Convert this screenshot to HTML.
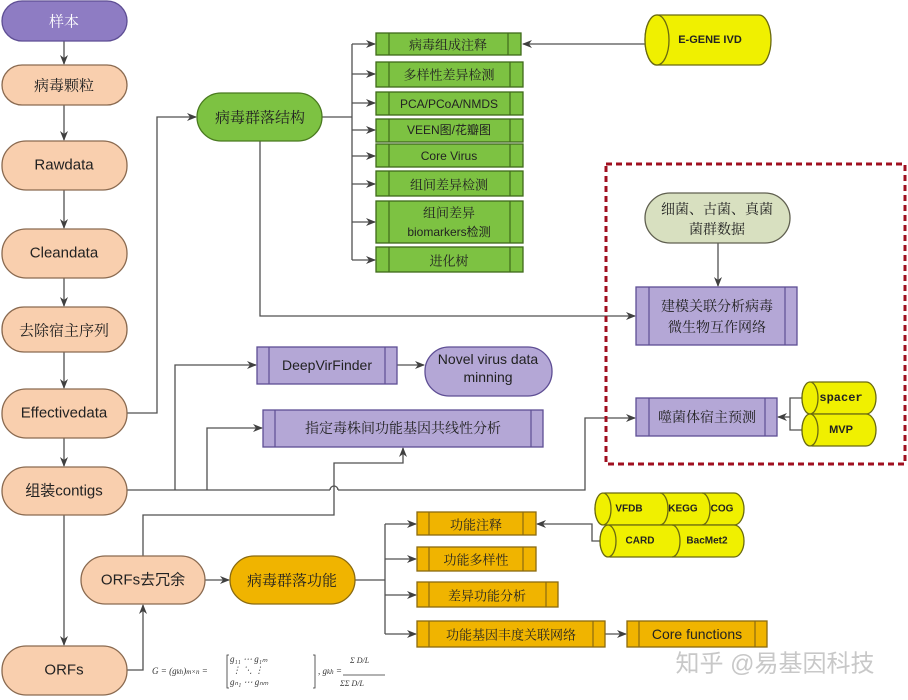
<!DOCTYPE html>
<html><head><meta charset="utf-8"><style>
html,body{margin:0;padding:0;background:#fff;}
svg{display:block;font-family:"Liberation Sans","Noto Sans CJK SC",sans-serif;}
.cn{font-family:"Noto Serif CJK SC","Liberation Serif",serif;}
</style></head><body>
<svg width="908" height="700" viewBox="0 0 908 700" xmlns="http://www.w3.org/2000/svg">
<defs>
<marker id="a" markerWidth="10" markerHeight="10" refX="9" refY="5" orient="auto" markerUnits="userSpaceOnUse">
<path d="M0,1 L10,5 L0,9 L3,5 z" fill="#404040"/></marker>
</defs>
<g stroke="#505050" stroke-width="1.3" fill="none">
<line x1="64" y1="41" x2="64" y2="64" marker-end="url(#a)"/>
<line x1="64" y1="105" x2="64" y2="140" marker-end="url(#a)"/>
<line x1="64" y1="190" x2="64" y2="228" marker-end="url(#a)"/>
<line x1="64" y1="278" x2="64" y2="306" marker-end="url(#a)"/>
<line x1="64" y1="352" x2="64" y2="388" marker-end="url(#a)"/>
<line x1="64" y1="438" x2="64" y2="466" marker-end="url(#a)"/>
<line x1="64" y1="515" x2="64" y2="645" marker-end="url(#a)"/>
<polyline points="127,413 157,413 157,117 196,117" marker-end="url(#a)"/>
<polyline points="127,670 143,670 143,605" marker-end="url(#a)"/>
<line x1="205" y1="580" x2="229" y2="580" marker-end="url(#a)"/>
<polyline points="322,117 352,117"/>
<line x1="352" y1="44" x2="352" y2="260"/>
<line x1="352" y1="44" x2="375" y2="44" marker-end="url(#a)"/>
<line x1="352" y1="74" x2="375" y2="74" marker-end="url(#a)"/>
<line x1="352" y1="103" x2="375" y2="103" marker-end="url(#a)"/>
<line x1="352" y1="130" x2="375" y2="130" marker-end="url(#a)"/>
<line x1="352" y1="156" x2="375" y2="156" marker-end="url(#a)"/>
<line x1="352" y1="184" x2="375" y2="184" marker-end="url(#a)"/>
<line x1="352" y1="222" x2="375" y2="222" marker-end="url(#a)"/>
<line x1="352" y1="260" x2="375" y2="260" marker-end="url(#a)"/>
<line x1="645" y1="44" x2="523" y2="44" marker-end="url(#a)"/>
<polyline points="260,141 260,316 635,316" marker-end="url(#a)"/>
<line x1="718" y1="243" x2="718" y2="286" marker-end="url(#a)"/>
<polyline points="127,490 330,490"/>
<path d="M330,490 a4,4 0 0 1 8,0"/>
<polyline points="338,490 585,490 585,418 635,418" marker-end="url(#a)"/>
<polyline points="175,490 175,365 256,365" marker-end="url(#a)"/>
<polyline points="207,490 207,428 262,428" marker-end="url(#a)"/>
<polyline points="143,556 143,515 334,515 334,463 403,463 403,448" marker-end="url(#a)"/>
<line x1="397" y1="365" x2="424" y2="365" marker-end="url(#a)"/>
<polyline points="802,398 790,398 790,430 802,430"/>
<line x1="790" y1="417" x2="778" y2="417" marker-end="url(#a)"/>
<line x1="355" y1="580" x2="385" y2="580"/>
<line x1="385" y1="524" x2="385" y2="634"/>
<line x1="385" y1="524" x2="416" y2="524" marker-end="url(#a)"/>
<line x1="385" y1="559" x2="416" y2="559" marker-end="url(#a)"/>
<line x1="385" y1="595" x2="416" y2="595" marker-end="url(#a)"/>
<line x1="385" y1="634" x2="416" y2="634" marker-end="url(#a)"/>
<line x1="605" y1="634" x2="626" y2="634" marker-end="url(#a)"/>
<polyline points="600,541 592,541 592,524 537,524" marker-end="url(#a)"/>
</g>
<rect x="606" y="164" width="299" height="300" fill="none" stroke="#a01020" stroke-width="3" stroke-dasharray="6,4"/>
<g stroke-width="1.3">
<rect x="2" y="1" width="125" height="40" rx="20" fill="#8e7cc3" stroke="#5e4e94"/>
<rect x="2" y="65" width="125" height="40" rx="20" fill="#f9cfae" stroke="#8a6a50"/>
<rect x="2" y="141" width="125" height="49" rx="24" fill="#f9cfae" stroke="#8a6a50"/>
<rect x="2" y="229" width="125" height="49" rx="24" fill="#f9cfae" stroke="#8a6a50"/>
<rect x="2" y="307" width="125" height="45" rx="22" fill="#f9cfae" stroke="#8a6a50"/>
<rect x="2" y="389" width="125" height="49" rx="24" fill="#f9cfae" stroke="#8a6a50"/>
<rect x="2" y="467" width="125" height="48" rx="24" fill="#f9cfae" stroke="#8a6a50"/>
<rect x="2" y="646" width="125" height="49" rx="24" fill="#f9cfae" stroke="#8a6a50"/>
<rect x="81" y="556" width="124" height="48" rx="24" fill="#f9cfae" stroke="#8a6a50"/>
<rect x="230" y="556" width="125" height="48" rx="24" fill="#f0b400" stroke="#8a6a10"/>
<rect x="197" y="93" width="125" height="48" rx="24" fill="#7dc242" stroke="#4a7a20"/>
<rect x="645" y="193" width="145" height="50" rx="25" fill="#d8e0c0" stroke="#606050"/>
<rect x="425" y="347" width="127" height="49" rx="24" fill="#b4a7d6" stroke="#5e4e94"/>
</g>
<g fill="#7dc242" stroke="#3f6a1a" stroke-width="1.3">
<rect x="376" y="33" width="145" height="22"/>
<rect x="376" y="62" width="147" height="25"/>
<rect x="376" y="92" width="147" height="23"/>
<rect x="376" y="119" width="147" height="23"/>
<rect x="376" y="144" width="147" height="23"/>
<rect x="376" y="171" width="147" height="25"/>
<rect x="376" y="201" width="147" height="42"/>
<rect x="376" y="247" width="147" height="25"/>
</g>
<g stroke="#3f6a1a" stroke-width="1.2">
<line x1="389" y1="33" x2="389" y2="55"/><line x1="508" y1="33" x2="508" y2="55"/>
<line x1="389" y1="62" x2="389" y2="87"/><line x1="510" y1="62" x2="510" y2="87"/>
<line x1="389" y1="92" x2="389" y2="115"/><line x1="510" y1="92" x2="510" y2="115"/>
<line x1="389" y1="119" x2="389" y2="142"/><line x1="510" y1="119" x2="510" y2="142"/>
<line x1="389" y1="144" x2="389" y2="167"/><line x1="510" y1="144" x2="510" y2="167"/>
<line x1="389" y1="171" x2="389" y2="196"/><line x1="510" y1="171" x2="510" y2="196"/>
<line x1="389" y1="201" x2="389" y2="243"/><line x1="510" y1="201" x2="510" y2="243"/>
<line x1="389" y1="247" x2="389" y2="272"/><line x1="510" y1="247" x2="510" y2="272"/>
</g>
<g fill="#b4a7d6" stroke="#5e4e94" stroke-width="1.3">
<rect x="257" y="347" width="140" height="37"/>
<rect x="263" y="410" width="280" height="37"/>
<rect x="636" y="287" width="161" height="58"/>
<rect x="636" y="398" width="141" height="38"/>
</g>
<g stroke="#5e4e94" stroke-width="1.2">
<line x1="269" y1="347" x2="269" y2="384"/><line x1="385" y1="347" x2="385" y2="384"/>
<line x1="275" y1="410" x2="275" y2="447"/><line x1="531" y1="410" x2="531" y2="447"/>
<line x1="649" y1="287" x2="649" y2="345"/><line x1="785" y1="287" x2="785" y2="345"/>
<line x1="649" y1="398" x2="649" y2="436"/><line x1="765" y1="398" x2="765" y2="436"/>
</g>
<g fill="#f0b400" stroke="#8a6a10" stroke-width="1.3">
<rect x="417" y="512" width="119" height="23"/>
<rect x="417" y="547" width="119" height="24"/>
<rect x="417" y="582" width="141" height="25"/>
<rect x="417" y="621" width="188" height="26"/>
<rect x="627" y="621" width="140" height="26"/>
</g>
<g stroke="#8a6a10" stroke-width="1.2">
<line x1="429" y1="512" x2="429" y2="535"/><line x1="523" y1="512" x2="523" y2="535"/>
<line x1="429" y1="547" x2="429" y2="571"/><line x1="523" y1="547" x2="523" y2="571"/>
<line x1="429" y1="582" x2="429" y2="607"/><line x1="546" y1="582" x2="546" y2="607"/>
<line x1="429" y1="621" x2="429" y2="647"/><line x1="593" y1="621" x2="593" y2="647"/>
<line x1="639" y1="621" x2="639" y2="647"/><line x1="755" y1="621" x2="755" y2="647"/>
</g>
<g fill="#f0f000" stroke="#6a6a10" stroke-width="1.3">
<rect x="645" y="15" width="126" height="50" rx="12" ry="25"/>
<ellipse cx="657" cy="40" rx="12" ry="25"/>
<rect x="802" y="382" width="74" height="32" rx="10" ry="16"/>
<ellipse cx="810" cy="398" rx="8" ry="16"/>
<rect x="802" y="414" width="74" height="32" rx="10" ry="16"/>
<ellipse cx="810" cy="430" rx="8" ry="16"/>
<rect x="595" y="493" width="149" height="32" rx="10" ry="16"/>
<ellipse cx="603" cy="509" rx="8" ry="16"/>
<path d="M660,493 a8,16 0 0 1 0,32" fill="none"/>
<path d="M702,493 a8,16 0 0 1 0,32" fill="none"/>
<rect x="600" y="525" width="144" height="32" rx="10" ry="16"/>
<ellipse cx="608" cy="541" rx="8" ry="16"/>
<path d="M672,525 a8,16 0 0 1 0,32" fill="none"/>
</g>
<g font-size="14" fill="#222" text-anchor="middle" dominant-baseline="central">
<text x="64" y="21" class="cn" fill="#fff" font-size="15">样本</text>
<text x="64" y="85" class="cn" font-size="15">病毒颗粒</text>
<text x="64" y="165" font-size="15">Rawdata</text>
<text x="64" y="253" font-size="15">Cleandata</text>
<text x="64" y="330" class="cn" font-size="15">去除宿主序列</text>
<text x="64" y="413" font-size="15">Effectivedata</text>
<text x="64" y="491" font-size="15">组装contigs</text>
<text x="64" y="670" font-size="15">ORFs</text>
<text x="143" y="580" font-size="15">ORFs去冗余</text>
<text x="292" y="580" class="cn" font-size="15">病毒群落功能</text>
<text x="260" y="117" class="cn" font-size="15">病毒群落结构</text>
<text x="448" y="44" class="cn" font-size="13">病毒组成注释</text>
<text x="449" y="74" class="cn" font-size="13">多样性差异检测</text>
<text x="449" y="104" font-size="12">PCA/PCoA/NMDS</text>
<text x="449" y="130" font-size="12">VEEN图/花瓣图</text>
<text x="449" y="156" font-size="12">Core Virus</text>
<text x="449" y="184" class="cn" font-size="13">组间差异检测</text>
<text x="449" y="212" class="cn" font-size="13">组间差异</text>
<text x="449" y="232" font-size="12">biomarkers检测</text>
<text x="449" y="260" class="cn" font-size="13">进化树</text>
<text x="710" y="40" font-size="11" font-weight="bold">E-GENE IVD</text>
<text x="717" y="209" class="cn" font-size="14">细菌、古菌、真菌</text>
<text x="717" y="229" class="cn" font-size="14">菌群数据</text>
<text x="717" y="306" class="cn" font-size="14">建模关联分析病毒</text>
<text x="717" y="327" class="cn" font-size="14">微生物互作网络</text>
<text x="707" y="417" class="cn" font-size="14">噬菌体宿主预测</text>
<text x="841" y="398" font-size="12" font-family="Liberation Mono" font-weight="bold">spacer</text>
<text x="841" y="430" font-size="11" font-weight="bold">MVP</text>
<text x="327" y="365" font-size="14">DeepVirFinder</text>
<text x="488" y="359" font-size="14">Novel virus data</text>
<text x="488" y="377" font-size="14">minning</text>
<text x="403" y="428" class="cn" font-size="14">指定毒株间功能基因共线性分析</text>
<text x="476" y="524" class="cn" font-size="13">功能注释</text>
<text x="476" y="559" class="cn" font-size="13">功能多样性</text>
<text x="487" y="595" class="cn" font-size="13">差异功能分析</text>
<text x="511" y="634" class="cn" font-size="13">功能基因丰度关联网络</text>
<text x="697" y="634" font-size="14">Core functions</text>
<text x="629" y="509" font-size="10" font-weight="bold">VFDB</text>
<text x="683" y="509" font-size="10" font-weight="bold">KEGG</text>
<text x="722" y="509" font-size="10" font-weight="bold">COG</text>
<text x="640" y="541" font-size="10" font-weight="bold">CARD</text>
<text x="707" y="541" font-size="10" font-weight="bold">BacMet2</text>
<text x="775" y="664" font-size="24" fill="#c8c8c8">知乎 @易基因科技</text>
</g>
<g font-family="Liberation Serif,serif" font-style="italic" font-size="9" fill="#333">
<text x="152" y="674">G = (g<tspan font-size="7">kh</tspan>)<tspan font-size="7">m×n</tspan> =</text>
<text x="230" y="662">g₁₁   ⋯   g₁ₘ</text>
<text x="232" y="673">⋮     ⋱    ⋮</text>
<text x="230" y="685">gₙ₁   ⋯   gₙₘ</text>
<text x="318" y="674">, g<tspan font-size="7">kh</tspan> =</text>
<text x="350" y="663" font-size="8">Σ D/L</text>
<text x="340" y="686" font-size="8">ΣΣ D/L</text>
</g>
<g stroke="#333" stroke-width="0.8" fill="none">
<path d="M229,655 h-2 v33 h2 M313,655 h2 v33 h-2"/>
<line x1="343" y1="675" x2="385" y2="675"/>
</g>
</svg>
</body></html>
